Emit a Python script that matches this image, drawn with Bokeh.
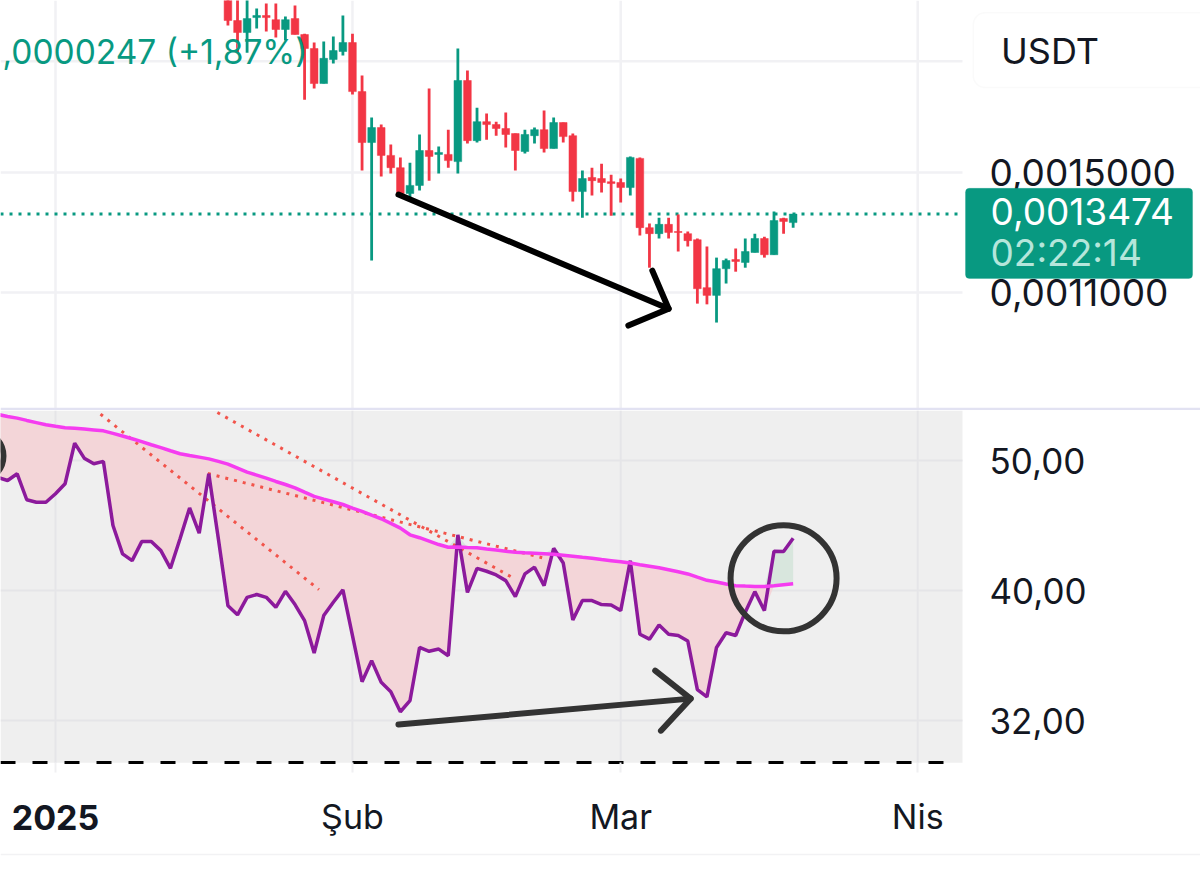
from bokeh.embed import file_html
from bokeh.resources import INLINE
from bokeh.layouts import column
from bokeh.models import (BoxAnnotation, ColumnDataSource, FixedTicker, Label,
                          Range1d)
from bokeh.plotting import figure

# ---------- x axis: days counted from 1 Jan 2025 ----------
x_ticks = [0, 31, 59, 90]
x_tick_labels = {31: "Şub", 59: "Mar", 90: "Nis"}
year_label = "2025"

# ---------- candles (prices in units of 0.0001) ----------
candle_first_day = 18
candle_open = [23.52, 22.22, 21.54, 22.39, 22.51, 22.27, 21.71, 22.33, 21.43, 20.67,
               18.88, 20.09, 20.51, 20.99, 18.49, 16.21, 16.85, 15.68, 15.19, 14.21,
               14.51, 15.88, 15.72, 15.72, 15.43, 19.03, 16.29, 17.11, 16.98, 16.81,
               16.59, 15.84, 16.50, 16.76, 15.96, 17.07, 16.50, 14.28, 14.81, 14.77,
               14.65, 14.62, 14.43, 15.56, 13.01, 12.81, 13.12, 12.88, 12.81, 12.61,
               11.14, 10.92, 11.70, 11.98, 11.89, 12.20, 12.65, 12.13, 13.32, 13.18]
candle_high = [23.70, 23.50, 23.50, 22.92, 23.22, 23.22, 22.45, 23.10, 21.48, 20.99,
               21.05, 21.32, 22.51, 21.48, 19.28, 17.29, 16.98, 16.13, 15.60, 15.39,
               16.55, 18.64, 16.04, 16.76, 20.67, 19.53, 17.74, 17.47, 17.11, 17.52,
               16.59, 16.76, 16.85, 17.61, 17.29, 17.07, 16.59, 15.08, 15.19, 15.35,
               14.92, 14.77, 15.64, 15.60, 13.15, 13.35, 13.35, 13.46, 12.88, 12.65,
               12.39, 12.04, 12.01, 12.33, 12.65, 12.81, 12.71, 13.56, 13.35, 13.474]
candle_low = [21.93, 20.45, 20.45, 21.76, 21.60, 21.26, 21.10, 21.43, 18.11, 18.64,
              18.88, 19.88, 20.30, 18.35, 15.08, 11.95, 14.85, 14.96, 14.06, 14.03,
              14.32, 14.69, 14.96, 15.19, 14.96, 16.17, 16.21, 16.33, 16.50, 16.00,
              15.08, 15.76, 16.17, 15.80, 15.96, 16.21, 13.92, 13.35, 14.14, 14.25,
              13.42, 13.88, 14.14, 12.75, 11.73, 12.65, 12.65, 12.23, 12.39, 10.69,
              10.67, 10.18, 11.26, 11.61, 11.73, 12.20, 12.04, 12.13, 12.81, 13.01]
candle_close = [22.22, 21.54, 22.33, 22.51, 22.39, 21.71, 22.27, 21.43, 20.67, 18.88,
                20.15, 20.56, 20.99, 18.49, 16.21, 16.85, 15.68, 15.19, 14.21, 14.51,
                15.88, 15.64, 15.80, 15.47, 19.03, 16.29, 17.11, 16.98, 16.81, 16.55,
                15.88, 16.55, 16.76, 15.96, 17.07, 16.46, 14.28, 14.77, 14.69, 14.62,
                14.58, 14.43, 15.60, 13.01, 12.81, 13.12, 12.85, 12.85, 12.58, 11.11,
                10.92, 11.70, 11.95, 11.92, 12.23, 12.65, 12.13, 13.25, 13.22, 13.474]

price_ticks = [0.0011, 0.0015]
price_grid = [0.0011, 0.0015, 0.0020]
price_tick_labels = {0.0011: "0,0011000", 0.0015: "0,0015000"}
last_price = 0.0013474

# ---------- RSI pane ----------
rsi_first_day = -6
rsi = [48.57, 48.32, 48.88, 46.75, 46.55, 46.55, 47.23, 48.05, 51.52, 50.21,
       49.73, 49.93, 44.73, 42.60, 42.11, 43.51, 43.51, 42.84, 41.56, 43.72,
       46.10, 44.14, 48.88, 43.72, 38.98, 38.37, 39.54, 39.73, 39.54, 38.87,
       39.95, 39.05, 37.99, 35.94, 38.32, 39.21, 40.05, 37.03, 34.21, 35.47,
       34.17, 33.63, 32.49, 33.11, 36.28, 36.04, 36.18, 35.77, 44.02, 39.88,
       41.56, 41.35, 41.09, 40.69, 39.59, 41.16, 41.64, 40.34, 43.01, 41.94,
       38.04, 39.32, 39.32, 39.05, 39.03, 38.65, 42.11, 37.11, 36.80, 37.70,
       37.11, 37.03, 36.68, 33.75, 33.33, 36.28, 37.21, 37.03, 38.54, 39.93,
       38.65, 42.79, 42.77, 43.76]
rsi_ma = [54.12, 53.94, 53.78, 53.57, 53.37, 53.17, 53.03, 52.91, 52.85, 52.78,
          52.70, 52.62, 52.39, 52.16, 51.91, 51.65, 51.38, 51.12, 50.85, 50.59,
          50.44, 50.30, 50.15, 49.93, 49.70, 49.36, 49.02, 48.77, 48.52, 48.24,
          47.99, 47.72, 47.36, 47.02, 46.80, 46.59, 46.37, 46.09, 45.82, 45.53,
          45.25, 44.89, 44.53, 44.02, 43.80, 43.55, 43.29, 43.09, 43.11, 43.07,
          43.05, 42.96, 42.88, 42.79, 42.72, 42.68, 42.65, 42.61, 42.57, 42.50,
          42.43, 42.35, 42.28, 42.19, 42.11, 42.03, 41.94, 41.82, 41.71, 41.60,
          41.46, 41.32, 41.16, 40.93, 40.71, 40.59, 40.45, 40.34, 40.31, 40.29,
          40.28, 40.34, 40.41, 40.48]
rsi_ticks = [32, 40, 50]
rsi_tick_labels = {32: "32,00", 40: "40,00", 50: "50,00"}

# ---------- hand-drawn marks: [day, value] ends ----------
trend_days = [[4.7, 27.5], [16.9, 47.9], [15.9, 50.8]]
trend_rsi = [[54.15, 40.07], [54.30, 40.83], [48.90, 42.32]]
price_arrow_days = [35.8, 64.0]
price_arrow_vals = [0.001417, 0.001055]
price_head_days = [62.3, 64.0, 59.8]
price_head_vals = [0.001164, 0.001055, 0.001010]
rsi_arrow_days = [35.8, 66.3]
rsi_arrow_vals = [31.78, 33.23]
rsi_head_days = [62.6, 66.3, 63.2]
rsi_head_vals = [34.86, 33.23, 31.45]
circle_days = [76.0, -8.04]
circle_vals = [40.85, 50.4]
circle_sizes = [106, 50]

GREEN = "#089981"
RED = "#f23645"
TEXT = "#131722"
FONT = "Inter"
FS = "36px"

candle_days = [candle_first_day + i for i in range(len(candle_close))]
scale = 1e-4
o = [v * scale for v in candle_open]
h = [v * scale for v in candle_high]
l = [v * scale for v in candle_low]
c = [v * scale for v in candle_close]
colors = [GREEN if ci >= oi else RED for oi, ci in zip(o, c)]
candles = ColumnDataSource(dict(x=candle_days, o=o, h=h, l=l, c=c, color=colors,
                                top=[max(a, b) for a, b in zip(o, c)],
                                bottom=[min(a, b) for a, b in zip(o, c)]))

# the plotting frame fills the whole page; the chart part ends at day `pane_end`
day_start, day_end, pane_end = -5.741, 119.52, 94.676
x_range = Range1d(day_start, day_end)


def data_label(fig, x, y, text, size=FS, color=TEXT, align="left", style="normal"):
    fig.add_layout(Label(x=x, y=y, text=text, text_align=align, text_baseline="middle",
                         text_font=FONT, text_font_size=size, text_font_style=style,
                         text_color=color))


# ---------- top pane ----------
price_low, price_high = 0.000811, 0.00234
top = figure(width=1200, height=410, x_range=x_range,
             y_range=Range1d(price_low, price_high), y_axis_type="log",
             y_axis_location="right", output_backend="svg", toolbar_location=None,
             min_border_left=0, min_border_right=0, min_border_top=0, min_border_bottom=0,
             outline_line_color=None, background_fill_color="#ffffff", border_fill_color="#ffffff")
top.xaxis.visible = False
top.grid.visible = False
grid_top = dict(line_color="#f1f1f4", line_width=2.5, level="underlay")
top.segment(x_ticks, [price_low] * 4, x_ticks, [price_high] * 4, **grid_top)
top.segment([day_start] * 3, price_grid, [pane_end] * 3, price_grid, **grid_top)
ya = top.yaxis[0]
ya.fixed_location = pane_end
ya.ticker = FixedTicker(ticks=price_ticks)
ya.major_label_overrides = price_tick_labels
ya.axis_line_color = None
ya.major_tick_line_color = None
ya.minor_tick_line_color = None
ya.major_label_standoff = 21
ya.major_label_text_font = FONT
ya.major_label_text_font_size = "37px"
ya.major_label_text_color = TEXT

top.line([day_start, pane_end], [last_price, last_price], line_color=GREEN,
         line_width=3, line_dash=[3, 6])
top.segment("x", "h", "x", "l", source=candles, color="color", line_width=2.8)
top.vbar("x", 0.8, "bottom", "top", source=candles, fill_color="color", line_color="color", line_width=0.5)
top.line(price_arrow_days, price_arrow_vals, line_color="#000000", line_width=6, line_cap="round")
top.line(price_head_days, price_head_vals, line_color="#000000", line_width=6, line_cap="round", line_join="round")

data_label(top, 26.3, 0.00205, ",0000247 (+1,87%)", size="33.5px", color=GREEN, align="right")
top.add_layout(BoxAnnotation(left=95.8, right=125, top=0.002267, bottom=0.001869,
                             fill_color="#ffffff", fill_alpha=1, line_color="#f0f0f0",
                             line_width=1.5, border_radius=12))
data_label(top, 98.7, 0.002056, "USDT")
top.add_layout(BoxAnnotation(left=94.99, right=118.69, top=0.001440, bottom=0.001141,
                             fill_color=GREEN, fill_alpha=1, line_color=GREEN, border_radius=4))
data_label(top, 97.6, 0.001357, "0,0013474", size="37px", color="#ffffff")
data_label(top, 97.6, 0.001220, "02:22:14", size="37px", color="#b5e6db")
top.add_layout(BoxAnnotation(left=day_start, right=125, top=0.000817, bottom=0.000811,
                             fill_color="#e2e2f2", fill_alpha=1, line_color=None))

# ---------- RSI pane ----------
rsi_floor, rsi_ceil, rsi_page_floor = 29.77, 54.49, 24.91
bottom = figure(width=1200, height=456, x_range=x_range,
                y_range=Range1d(rsi_page_floor, rsi_ceil), y_axis_type="log",
                y_axis_location="right", output_backend="svg", toolbar_location=None,
                min_border_left=0, min_border_right=0, min_border_top=0, min_border_bottom=0,
                outline_line_color=None, background_fill_color="#ffffff", border_fill_color="#ffffff")
bottom.grid.visible = False
bottom.quad(left=[day_start], right=[pane_end], bottom=[rsi_floor], top=[rsi_ceil],
            fill_color="#efefef", line_color=None, level="underlay")
grid_bottom = dict(line_color="#e5e5e8", line_width=2, level="underlay")
bottom.segment(x_ticks, [rsi_floor] * 4, x_ticks, [rsi_ceil] * 4, **grid_bottom)
bottom.segment([day_start] * 3, rsi_ticks, [pane_end] * 3, rsi_ticks, **grid_bottom)
ya = bottom.yaxis[0]
ya.fixed_location = pane_end
ya.ticker = FixedTicker(ticks=rsi_ticks)
ya.major_label_overrides = rsi_tick_labels
ya.axis_line_color = None
ya.major_tick_line_color = None
ya.minor_tick_line_color = None
ya.major_label_standoff = 21
ya.major_label_text_font = FONT
ya.major_label_text_font_size = "35px"
ya.major_label_text_color = TEXT
xa = bottom.xaxis[0]
xa.fixed_location = rsi_floor
xa.ticker = FixedTicker(ticks=x_ticks)
xa.major_label_overrides = {0: "", **x_tick_labels}
xa.bounds = (day_start, 92.9)
xa.axis_line_color = "#000000"
xa.axis_line_width = 3
xa.axis_line_dash = [15, 17]
xa.major_tick_line_color = "#f0f0f2"
xa.major_tick_line_width = 2
xa.major_tick_in = 0
xa.major_tick_out = 10
xa.minor_tick_line_color = None
xa.major_label_standoff = 23
xa.major_label_text_font = FONT
xa.major_label_text_font_size = "34px"
xa.major_label_text_color = TEXT

rsi_days = [rsi_first_day + i for i in range(len(rsi))]
low_edge = [min(a, b) for a, b in zip(rsi, rsi_ma)]
high_edge = [max(a, b) for a, b in zip(rsi, rsi_ma)]
bottom.varea(rsi_days, low_edge, rsi_ma, fill_color="#f3d5d8")
bottom.varea(rsi_days, rsi_ma, high_edge, fill_color="#d8e6dd")
bottom.multi_line(trend_days, trend_rsi, line_color="#f2544b", line_width=3, line_dash="3 6")
bottom.line(rsi_days, rsi, line_color="#8c1a9c", line_width=3.5)
bottom.line(rsi_days, rsi_ma, line_color="#f53cf0", line_width=3.5)
bottom.line(rsi_arrow_days, rsi_arrow_vals, line_color="#333333", line_width=6, line_cap="round")
bottom.line(rsi_head_days, rsi_head_vals, line_color="#333333", line_width=6, line_cap="round", line_join="round")
bottom.scatter(circle_days, circle_vals, size=circle_sizes, marker="circle", fill_alpha=0,
               line_color="#333333", line_width=6)
data_label(bottom, 0, 27.09, year_label, size="34px", align="center", style="bold")
bottom.add_layout(BoxAnnotation(left=day_start, right=125, top=25.46, bottom=25.40,
                                fill_color="#f2f2f4", fill_alpha=1, line_color=None))

page = column(top, bottom, spacing=0)
open("out.html", "w").write(file_html(page, INLINE))
